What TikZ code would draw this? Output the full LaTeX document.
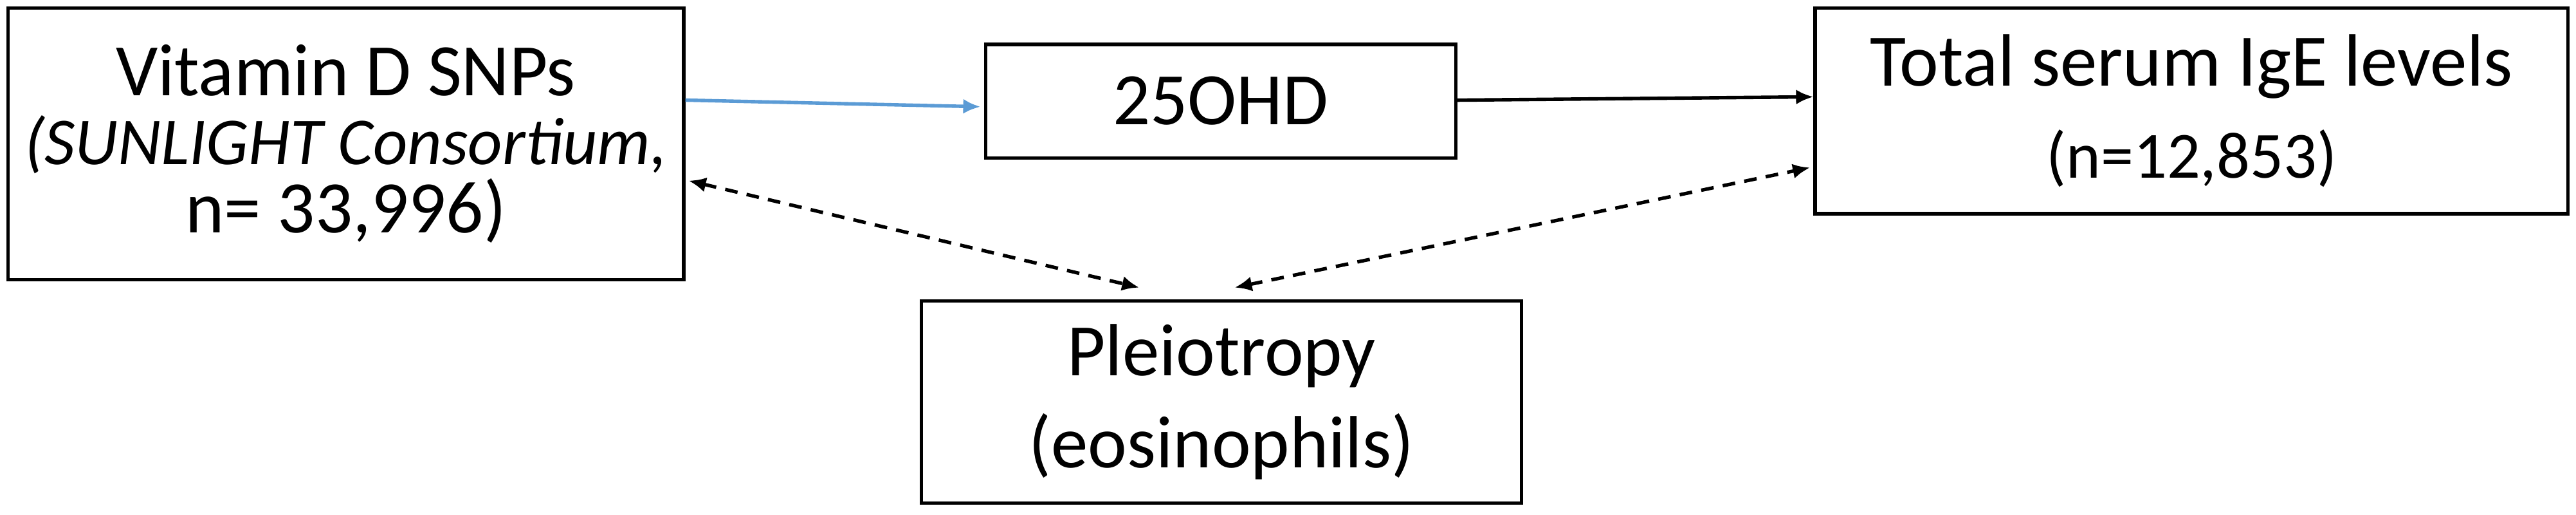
\documentclass[tikz,border=0pt]{standalone}
\usepackage{fontspec}
\setmainfont{Carlito}
\usetikzlibrary{arrows.meta, positioning, calc}

\tikzset{
  box/.style={draw, line width=0.6pt, align=center, inner sep=0pt,
    font=\fontsize{12.8}{11.9}\selectfont},
  link/.style={line width=0.6pt, -{Latex[length=3pt,width=2.6pt]}},
  pleio/.style={line width=0.6pt, dashed, dash pattern=on 2.2pt off 1.6pt,
    {Latex[length=3pt,width=2.6pt]}-{Latex[length=3pt,width=2.6pt]}}
}

\begin{document}
\begin{tikzpicture}[x=0.01cm, y=-0.01cm]
    \useasboundingbox (0,0) rectangle (1568,313);

    % Boxes
    \node[box, minimum width=4.11cm, minimum height=1.65cm] (snps) at (210.5,87.5)
      {Vitamin D SNPs\\ {\fontsize{11.6}{11.9}\selectfont\textit{(SUNLIGHT Consortium,}}\\ n= 33,996)};
    \node[box, minimum width=2.86cm, minimum height=0.69cm] (ohd) at (743,61.5) {25OHD};
    \node[box, minimum width=4.58cm, minimum height=1.25cm] (ige) at (1334,67.5)
      {Total serum IgE levels\\[4pt] {\fontsize{11.4}{12}\selectfont (n=12,853)}};
    \node[box, minimum width=3.65cm, minimum height=1.23cm] (pleiotropy) at (743.5,244.5)
      {Pleiotropy\\[4pt] (eosinophils)};

    % Causal path
    \draw[link, color={rgb,255:red,91;green,155;blue,213}]
      ($(snps.north east)+(0,57)$) -- ($(ohd.north west)+(-2,39)$);
    \draw[link] ($(ohd.north east)+(0,35)$) -- ($(ige.north west)+(0,55)$);

    % Pleiotropic paths
    \draw[pleio] ($(snps.north east)+(2,106)$) -- ($(pleiotropy.north)+(-50,-7)$);
    \draw[pleio] ($(pleiotropy.north)+(8,-7)$) -- ($(ige.north west)+(-2,98)$);
\end{tikzpicture}
\end{document}
